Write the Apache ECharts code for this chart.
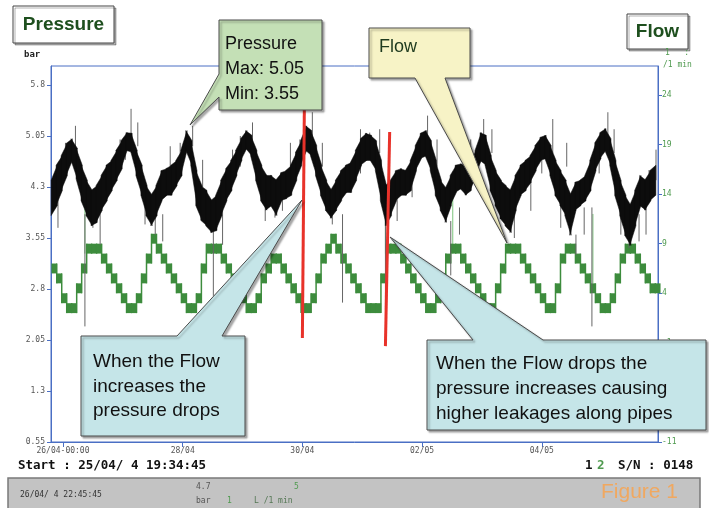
<!DOCTYPE html>
<html>
<head>
<meta charset="utf-8">
<script src="https://cdn.jsdelivr.net/npm/echarts@6/dist/echarts.min.js"></script>
<style>
  html, body { margin: 0; padding: 0; background: #fff; }
  #chart { width: 709px; height: 508px; }
</style>
</head>
<body>
<div id="chart"></div>
<script>
// time axis in hours from 26/04 00:00
const xTickHours = [0, 48, 96, 144, 192];
const xTickLabels = ['26/04-00:00', '28/04', '30/04', '02/05', '04/05'];
const leftTicks = [0.55, 1.3, 2.05, 2.8, 3.55, 4.3, 5.05, 5.8];
const rightTicks = [-11, -6, -1, 4, 9, 14, 19, 24];

// slots of 2 h starting at -4.5 h; low / high of the dense trace in each slot
const startHour = -4.5;
const stepHours = 2;

const pressHi = [
  4.40, 4.62, 4.76, 4.94, 5.01, 4.87, 4.62, 4.40, 4.25, 4.32,
  4.47, 4.62, 4.69, 4.84, 4.98, 5.10, 5.09, 4.84, 4.62, 4.32,
  4.18, 4.32, 4.54, 4.57, 4.62, 4.69, 4.84, 5.13, 4.98, 4.54,
  4.32, 4.25, 4.10, 4.18, 4.40, 4.57, 4.69, 4.84, 5.01, 5.13,
  5.06, 4.84, 4.62, 4.47, 4.47, 4.40, 4.51, 4.54, 4.62, 4.81,
  4.98, 5.20, 5.13, 4.91, 4.62, 4.40, 4.25, 4.40, 4.54, 4.62,
  4.66, 4.84, 5.01, 5.09, 5.06, 4.98, 4.69, 4.32, 4.40, 4.54,
  4.57, 4.54, 4.69, 4.91, 5.09, 5.13, 4.98, 4.69, 4.40, 4.28,
  4.47, 4.62, 4.64, 4.62, 4.66, 4.84, 5.10, 5.06, 4.76, 4.54,
  4.40, 4.32, 4.25, 4.47, 4.62, 4.69, 4.76, 4.91, 5.03, 5.06,
  4.91, 4.69, 4.54, 4.40, 4.18, 4.37, 4.40, 4.47, 4.69, 4.95,
  5.10, 5.16, 5.01, 4.69, 4.40, 4.18, 4.03, 4.25, 4.47, 4.40,
  4.54, 4.62
];
const pressLo = [
  3.88, 4.03, 4.25, 4.47, 4.69, 4.42, 4.10, 3.88, 3.73, 3.78,
  3.96, 4.10, 4.25, 4.40, 4.57, 4.84, 4.81, 4.47, 4.18, 3.88,
  3.73, 3.88, 4.10, 4.18, 4.18, 4.32, 4.47, 4.84, 4.62, 4.03,
  3.81, 3.73, 3.63, 3.66, 3.88, 4.10, 4.25, 4.47, 4.69, 4.87,
  4.76, 4.40, 4.10, 3.96, 4.03, 3.88, 4.10, 4.13, 4.18, 4.40,
  4.62, 4.84, 4.76, 4.47, 4.18, 3.96, 3.84, 3.96, 4.10, 4.22,
  4.22, 4.40, 4.62, 4.69, 4.69, 4.54, 4.10, 3.73, 3.88, 4.10,
  4.18, 4.18, 4.25, 4.54, 4.72, 4.76, 4.54, 4.18, 3.96, 3.78,
  4.03, 4.22, 4.28, 4.18, 4.25, 4.47, 4.69, 4.62, 4.25, 4.03,
  3.84, 3.73, 3.63, 3.96, 4.18, 4.25, 4.37, 4.54, 4.69, 4.72,
  4.47, 4.18, 4.03, 3.88, 3.59, 3.96, 4.03, 4.10, 4.25, 4.54,
  4.72, 4.84, 4.62, 4.18, 3.88, 3.59, 3.44, 3.73, 4.03, 3.96,
  4.10, 4.18
];
// hairline pressure spikes: [hour, from bar, to bar]
const pressSpikes = [
  [-2, 4.20, 3.70], [1, 4.60, 4.95], [5, 4.90, 5.20], [8.8, 3.90, 2.25],
  [12, 4.10, 3.70], [14.9, 3.90, 3.45], [18, 4.20, 4.60], [22.9, 4.60, 5.00],
  [25, 4.70, 4.95], [27.3, 4.90, 5.45], [30, 4.90, 5.25], [32.9, 4.30, 3.75],
  [37, 4.10, 3.60], [40, 3.90, 3.50], [43.0, 4.40, 4.90], [47, 4.60, 4.95],
  [52, 4.90, 5.20], [56, 4.30, 4.70], [60.3, 3.70, 2.70], [64, 4.00, 3.45],
  [68, 4.50, 4.85], [71.1, 4.60, 5.05], [76, 4.90, 5.25], [81.1, 4.30, 3.80],
  [85, 4.20, 3.85], [88, 4.40, 3.95], [91.2, 4.40, 4.95], [95, 4.60, 5.00],
  [100.0, 4.90, 5.40], [104, 4.60, 4.95], [108, 4.20, 3.75], [112.1, 3.90, 2.60],
  [116, 4.30, 4.65], [119.3, 4.50, 5.15], [123, 4.70, 5.10], [127, 4.80, 5.15],
  [129.3, 3.80, 2.50], [134, 4.20, 3.80], [140, 4.40, 4.15], [146.2, 4.80, 5.35],
  [150, 4.60, 5.00], [155.5, 3.80, 3.00], [159, 4.00, 3.60], [163.5, 4.40, 5.00],
  [168.7, 4.70, 5.30], [172, 4.80, 5.15], [176, 4.30, 3.85], [181, 4.00, 3.55],
  [187.6, 4.50, 3.95], [192, 4.50, 4.85], [196.4, 4.80, 5.30], [199.6, 4.30, 3.70],
  [202, 4.60, 4.95], [205.7, 3.60, 3.30], [209, 4.00, 3.60], [212.1, 4.00, 2.25],
  [215, 4.50, 4.85], [218.5, 4.90, 5.40], [221, 4.80, 5.15], [223.7, 4.40, 3.60],
  [227, 3.90, 3.40], [231, 3.90, 3.50], [233.8, 4.30, 3.60], [235, 4.20, 4.55],
  [237.8, 4.40, 4.85]
];

const flowLo = [
  6, 5, 3, 2, 2, 4, 6, 8, 8, 8,
  7, 6, 5, 4, 3, 2, 2, 3, 5, 7,
  9, 8, 7, 6, 5, 4, 3, 2, 2, 3,
  6, 8, 8, 8, 7, 6, 5, 4, 3, 2,
  2, 3, 5, 6, 7, 7, 6, 5, 4, 3,
  2, 2, 3, 5, 7, 8, 9, 8, 7, 6,
  5, 4, 3, 2, 2, 2, 5, 8, 8, 8,
  7, 6, 5, 4, 3, 2, 2, 3, 5, 7,
  8, 8, 7, 6, 5, 4, 3, 2, 2, 4,
  6, 8, 8, 8, 7, 6, 5, 4, 3, 2,
  2, 4, 7, 8, 8, 7, 6, 5, 4, 3,
  2, 2, 3, 5, 7, 8, 8, 7, 6, 5,
  4, 4
];
const flowHi = [
  7, 6, 4, 3, 3, 5, 7, 9, 9, 9,
  8, 7, 6, 5, 4, 3, 3, 4, 6, 8,
  10, 9, 8, 7, 6, 5, 4, 3, 3, 4,
  7, 9, 9, 9, 8, 7, 6, 5, 4, 3,
  3, 4, 6, 7, 8, 8, 7, 6, 5, 4,
  3, 3, 4, 6, 8, 9, 10, 9, 8, 7,
  6, 5, 4, 3, 3, 3, 6, 9, 9, 9,
  8, 7, 6, 5, 4, 3, 3, 4, 6, 8,
  9, 9, 8, 7, 6, 5, 4, 3, 3, 5,
  7, 9, 9, 9, 8, 7, 6, 5, 4, 3,
  3, 5, 8, 9, 9, 8, 7, 6, 5, 4,
  3, 3, 4, 6, 8, 9, 9, 8, 7, 6,
  5, 5
];
// hairline flow spikes: [hour, from, to]
const flowSpikes = [
  [8.8, 8, 14], [129.3, 8, 13.7], [156.3, 8, 14], [212.5, 5, 12]
];

// red marker lines [hour, bar] -> [hour, bar]
const redLines = [
  [96.8, 5.51, 96.0, 2.08],
  [131.0, 5.11, 129.3, 1.96]
];

const BLUE = '#4a6fc4';
const GREEN = '#3d8c3d';

const slotHours = pressLo.map((v, k) => startHour + k * stepHours);

// pressure band: one quad per slot, widened a little so neighbours overlap
function pressureQuad(params, api) {
  const k = params.dataIndex;
  if (k >= pressLo.length - 1) return null;
  const t0 = slotHours[k] - 0.25, t1 = slotHours[k + 1] + 0.25;
  return {
    type: 'polygon',
    shape: { points: [
      api.coord([t0, pressHi[k]]), api.coord([t1, pressHi[k + 1]]),
      api.coord([t1, pressLo[k + 1]]), api.coord([t0, pressLo[k]])
    ] },
    style: { fill: '#0d0d0d', stroke: '#0d0d0d', lineWidth: 0.5 }
  };
}

// flow: stepped block per slot plus a thin riser to the next slot
function flowBlock(params, api) {
  const k = params.dataIndex;
  const t0 = slotHours[k], t1 = t0 + stepHours;
  const a = api.coord([t0, flowHi[k]]);
  const b = api.coord([t1, flowLo[k]]);
  const children = [{
    type: 'rect',
    shape: { x: a[0] - 0.3, y: a[1], width: b[0] - a[0] + 0.6, height: b[1] - a[1] },
    style: { fill: GREEN }
  }];
  if (k < flowLo.length - 1) {
    const ys = [flowLo[k], flowHi[k], flowLo[k + 1], flowHi[k + 1]];
    const top = api.coord([t1, Math.max.apply(null, ys)]);
    const bot = api.coord([t1, Math.min.apply(null, ys)]);
    children.push({
      type: 'line',
      shape: { x1: top[0], y1: top[1], x2: bot[0], y2: bot[1] },
      style: { stroke: GREEN, lineWidth: 1.5 }
    });
  }
  return { type: 'group', children: children };
}

function spikeLine(color) {
  return function (params, api) {
    const a = api.coord([api.value(0), api.value(1)]);
    const b = api.coord([api.value(0), api.value(2)]);
    return {
      type: 'line',
      shape: { x1: a[0], y1: a[1], x2: b[0], y2: b[1] },
      style: { stroke: color, lineWidth: 1 }
    };
  };
}

function txt(x, y, s, font, fill, align) {
  return {
    type: 'text', z: 110,
    style: {
      text: s, x: x, y: y, font: font, fill: fill,
      align: align || 'left', textAlign: align || 'left',
      verticalAlign: 'middle', textVerticalAlign: 'middle'
    }
  };
}
function bubble(points, fill) {
  return {
    type: 'polygon', z: 100,
    shape: { points: points },
    style: {
      fill: fill, stroke: '#4a4a4a', lineWidth: 1,
      shadowColor: 'rgba(0,0,0,0.35)', shadowOffsetX: 2, shadowOffsetY: 2, shadowBlur: 2
    }
  };
}

const calloutFont = '19px "Liberation Sans", Arial, sans-serif';
const monoSmall = '8px "DejaVu Sans Mono", monospace';

const chart = echarts.init(document.getElementById('chart'));

chart.setOption({
  animation: false,
  grid: {
    left: 51, right: 51, top: 66, bottom: 66,
    show: true, borderColor: BLUE, borderWidth: 1
  },
  xAxis: {
    type: 'value',
    min: -4.8,
    max: 238.6,
    axisLine: { onZero: false, lineStyle: { color: BLUE } },
    axisTick: { customValues: xTickHours, length: 5, lineStyle: { color: BLUE } },
    axisLabel: {
      customValues: xTickHours,
      formatter: v => xTickLabels[xTickHours.indexOf(v)],
      color: '#555', fontSize: 8, fontFamily: 'DejaVu Sans Mono', margin: 5
    },
    splitLine: { show: false }
  },
  yAxis: [
    {
      type: 'value',
      min: 0.55,
      max: 6.08,
      axisLine: { show: true, onZero: false, lineStyle: { color: BLUE } },
      axisTick: { show: true, customValues: leftTicks, length: 4, lineStyle: { color: BLUE } },
      axisLabel: {
        customValues: leftTicks,
        formatter: v => String(v),
        color: '#555', fontSize: 8, fontFamily: 'DejaVu Sans Mono', margin: 6
      },
      splitLine: { show: false }
    },
    {
      type: 'value',
      position: 'right',
      min: -11,
      max: 26.92,
      axisLine: { show: true, onZero: false, lineStyle: { color: BLUE } },
      axisTick: { show: true, customValues: rightTicks, length: 4, lineStyle: { color: BLUE } },
      axisLabel: {
        customValues: rightTicks,
        formatter: v => String(v),
        color: '#4f9a4f', fontSize: 8, fontFamily: 'DejaVu Sans Mono', margin: 4
      },
      splitLine: { show: false }
    }
  ],
  series: [
    {
      name: 'Flow spikes',
      type: 'custom',
      yAxisIndex: 1,
      data: flowSpikes,
      renderItem: spikeLine('#7cc47c'),
      z: 1
    },
    {
      name: 'Flow',
      type: 'custom',
      yAxisIndex: 1,
      data: slotHours.map((t, k) => [t, flowLo[k], flowHi[k]]),
      renderItem: flowBlock,
      z: 2
    },
    {
      name: 'Pressure spikes',
      type: 'custom',
      yAxisIndex: 0,
      data: pressSpikes,
      renderItem: spikeLine('#666'),
      z: 3
    },
    {
      name: 'Pressure',
      type: 'custom',
      yAxisIndex: 0,
      data: slotHours.map((t, k) => [t, pressLo[k], pressHi[k]]),
      renderItem: pressureQuad,
      z: 4
    },
    {
      name: 'Markers',
      type: 'line',
      yAxisIndex: 0,
      data: [],
      z: 5,
      markLine: {
        silent: true,
        symbol: ['none', 'none'],
        label: { show: false },
        lineStyle: { color: '#e8322a', width: 3, type: 'solid' },
        data: redLines.map(r => [{ coord: [r[0], r[1]] }, { coord: [r[2], r[3]] }])
      }
    }
  ],
  graphic: [
    // title boxes
    { type: 'rect', z: 100, shape: { x: 13, y: 6, width: 101, height: 37 },
      style: { fill: '#fff', stroke: '#444', lineWidth: 1, shadowColor: 'rgba(0,0,0,0.3)', shadowOffsetX: 2, shadowOffsetY: 2 } },
    txt(63.5, 25, 'Pressure', 'bold 19px "Liberation Sans", Arial, sans-serif', '#1e4f1e', 'center'),
    { type: 'rect', z: 100, shape: { x: 627, y: 14, width: 61, height: 35 },
      style: { fill: '#fff', stroke: '#444', lineWidth: 1, shadowColor: 'rgba(0,0,0,0.3)', shadowOffsetX: 2, shadowOffsetY: 2 } },
    txt(657.5, 32, 'Flow', 'bold 19px "Liberation Sans", Arial, sans-serif', '#1e4f1e', 'center'),

    // unit labels
    txt(24, 55, 'bar', 'bold 9px "DejaVu Sans Mono", monospace', '#222'),
    txt(665, 53, '1   :', monoSmall, '#4f9a4f'),
    txt(663, 65, '/1 min', monoSmall, '#4f9a4f'),

    // callouts
    bubble([[219, 20], [322, 20], [322, 110], [219, 110], [219, 97], [190, 125], [219, 74]], '#c4e0b6'),
    txt(225, 44, 'Pressure', '18px "Liberation Sans", Arial, sans-serif', '#111'),
    txt(225, 69, 'Max: 5.05', '18px "Liberation Sans", Arial, sans-serif', '#111'),
    txt(225, 94, 'Min: 3.55', '18px "Liberation Sans", Arial, sans-serif', '#111'),

    bubble([[369, 28], [470, 28], [470, 78], [445, 78], [507, 243], [415, 78], [369, 78]], '#f7f3c6'),
    txt(379, 47, 'Flow', '18px "Liberation Sans", Arial, sans-serif', '#1e3a1e'),

    bubble([[81, 336], [177, 336], [302, 200], [222, 336], [245, 336], [245, 436], [81, 436]], '#c5e5e8'),
    txt(93, 362, 'When the Flow', calloutFont, '#111'),
    txt(93, 387, 'increases the', calloutFont, '#111'),
    txt(93, 411, 'pressure drops', calloutFont, '#111'),

    bubble([[427, 340], [473, 340], [390, 237], [543, 340], [706, 340], [706, 430], [427, 430]], '#c5e5e8'),
    txt(436, 364, 'When the Flow drops the', calloutFont, '#111'),
    txt(436, 389, 'pressure increases causing', calloutFont, '#111'),
    txt(436, 414, 'higher leakages along pipes', calloutFont, '#111'),

    // footer
    txt(18, 466, 'Start : 25/04/ 4 19:34:45', 'bold 12.5px "DejaVu Sans Mono", monospace', '#111'),
    txt(585, 466, '1', 'bold 12.5px "DejaVu Sans Mono", monospace', '#111'),
    txt(597, 466, '2', 'bold 12.5px "DejaVu Sans Mono", monospace', '#4f9a4f'),
    txt(618, 466, 'S/N : 0148', 'bold 12.5px "DejaVu Sans Mono", monospace', '#111'),

    { type: 'rect', z: 100, shape: { x: 8, y: 478, width: 692, height: 32 },
      style: { fill: '#c3c3c3', stroke: '#7a7a7a', lineWidth: 1.5 } },
    txt(20, 495, '26/04/ 4 22:45:45', monoSmall, '#333'),
    txt(196, 487, '4.7', monoSmall, '#555'),
    txt(294, 487, '5', monoSmall, '#4f9a4f'),
    txt(196, 501, 'bar', monoSmall, '#555'),
    txt(227, 501, '1', monoSmall, '#4f9a4f'),
    txt(254, 501, 'L /1 min', monoSmall, '#557755'),
    txt(601, 492, 'Figure 1', '21px "Liberation Sans", Arial, sans-serif', '#f0a860')
  ]
});
</script>
</body>
</html>
